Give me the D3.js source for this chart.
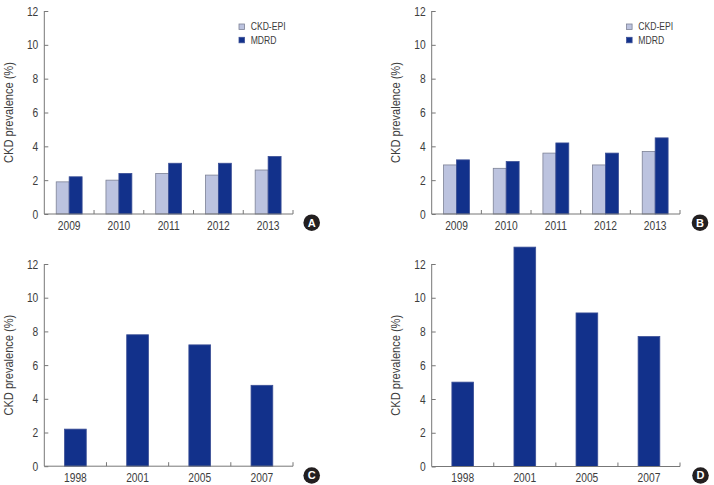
<!DOCTYPE html>
<html>
<head>
<meta charset="utf-8">
<script src="https://cdn.jsdelivr.net/npm/d3@7"></script>
<style>
  body { margin: 0; background: #fff; }
  svg { display: block; }
  text { font-family: "Liberation Sans", Arial, sans-serif; fill: #3d3d3d; }
</style>
</head>
<body>
<div id="chart"></div>
<script>
// data ---------------------------------------------------------------------
var yearsAB = ["2009", "2010", "2011", "2012", "2013"];
var ckdEpiA = [1.9, 2.0, 2.4, 2.3, 2.6];
var mdrdA   = [2.2, 2.4, 3.0, 3.0, 3.4];
var ckdEpiB = [2.9, 2.7, 3.6, 2.9, 3.7];
var mdrdB   = [3.2, 3.1, 4.2, 3.6, 4.5];
var yearsCD = ["1998", "2001", "2005", "2007"];
var valuesC = [2.2, 7.8, 7.2, 4.8];
var valuesD = [5.0, 13.0, 9.1, 7.7];
var yTicks = [0, 2, 4, 6, 8, 10, 12];
var seriesNames = ["CKD-EPI", "MDRD"];
var seriesColors = ["#bcc3df", "#12318b"];
var seriesStroke = ["#7d8296", "#3b4f96"];

var squeeze = 0.82; // narrow the font horizontally, like a condensed face

var svg = d3.select("#chart").append("svg")
  .attr("width", 714)
  .attr("height", 485);

function drawPanel(opt) {
  var g = svg.append("g");
  var x = d3.scaleBand().domain(opt.cats).range([opt.x0, opt.x1]);
  var y = d3.scaleLinear().domain([0, 12]).range([opt.yb, opt.yt]);

  // bars
  if (opt.series.length === 2) {
    var inner = d3.scaleBand().domain([0, 1]).range([0, x.bandwidth()])
      .paddingOuter(0.92).paddingInner(0);
    opt.series.forEach(function(vals, si) {
      g.selectAll(".b" + si).data(vals).enter().append("rect")
        .attr("x", function(d, i) { return x(opt.cats[i]) + inner(si); })
        .attr("y", function(d) { return y(d); })
        .attr("width", inner.bandwidth())
        .attr("height", function(d) { return y(0) - y(d); })
        .attr("fill", seriesColors[si])
        .attr("stroke", seriesStroke[si])
        .attr("stroke-width", 0.8);
    });
  } else {
    var inner1 = d3.scaleBand().domain([0]).range([0, x.bandwidth()]).paddingOuter(0.93);
    g.selectAll(".b").data(opt.series[0]).enter().append("rect")
      .attr("x", function(d, i) { return x(opt.cats[i]) + inner1(0); })
      .attr("y", function(d) { return y(d); })
      .attr("width", inner1.bandwidth())
      .attr("height", function(d) { return y(0) - y(d); })
      .attr("fill", seriesColors[1])
      .attr("stroke", seriesStroke[1])
      .attr("stroke-width", 0.8);
  }

  // y axis, ticks pointing inward
  var ya = g.append("g")
    .attr("transform", "translate(" + opt.x0 + ",0)")
    .call(d3.axisRight(y).tickValues(yTicks).tickSize(4).tickFormat(d3.format("d")));
  ya.select(".domain").attr("stroke", "#777").attr("d", "M0," + opt.yt + "V" + opt.yb);
  ya.selectAll(".tick line").attr("stroke", "#777");
  ya.selectAll(".tick text")
    .attr("x", -6 / squeeze)
    .attr("transform", "scale(" + squeeze + ",1)")
    .attr("text-anchor", "end")
    .attr("font-size", 12.5)
    .attr("font-family", null);

  // x axis
  var xa = g.append("g")
    .attr("transform", "translate(0," + opt.yb + ")")
    .call(d3.axisBottom(x).tickSize(0).tickPadding(7));
  xa.select(".domain").attr("stroke", "#777").attr("d", "M" + opt.x0 + ",0H" + opt.x1);
  xa.selectAll(".tick text")
    .attr("transform", "scale(" + squeeze + ",1)")
    .attr("font-size", 12.5)
    .attr("font-family", null);
  var bounds = opt.cats.slice(1).map(function(c) { return x(c); }).concat([opt.x1]);
  xa.selectAll(".bt").data(bounds).enter().append("line")
    .attr("x1", function(d) { return d; })
    .attr("x2", function(d) { return d; })
    .attr("y1", 0).attr("y2", -4)
    .attr("stroke", "#777");

  // y label
  g.append("text")
    .attr("transform", "translate(" + opt.labelX + "," + ((opt.yt + opt.yb) / 2) + ") rotate(-90) scale(" + squeeze + ",1)")
    .attr("text-anchor", "middle")
    .attr("dy", "0.35em")
    .attr("font-size", 13.5)
    .text("CKD prevalence (%)");

  // panel letter
  g.append("circle")
    .attr("cx", opt.letterX).attr("cy", opt.letterY).attr("r", 8.3)
    .attr("fill", "#231f20");
  g.append("text")
    .attr("x", opt.letterX).attr("y", opt.letterY)
    .attr("dy", "0.36em")
    .attr("text-anchor", "middle")
    .attr("font-size", 11)
    .attr("font-weight", "bold")
    .style("fill", "#fff")
    .text(opt.letter);

  // legend
  if (opt.legendX) {
    seriesNames.forEach(function(name, i) {
      var ly = opt.legendY + i * 13.3;
      g.append("rect")
        .attr("x", opt.legendX - 2.7).attr("y", ly - 2.7)
        .attr("width", 5.5).attr("height", 5.5)
        .attr("fill", seriesColors[i])
        .attr("stroke", seriesStroke[i])
        .attr("stroke-width", 0.8);
      g.append("text")
        .attr("transform", "translate(" + (opt.legendX + 9) + "," + ly + ") scale(" + squeeze + ",1)")
        .attr("dy", "0.35em")
        .attr("font-size", 10.5)
        .text(name);
    });
  }
}

drawPanel({ cats: yearsAB, series: [ckdEpiA, mdrdA], x0: 44.3, x1: 293, yt: 11, yb: 214,
  labelX: 8, letter: "A", letterX: 311.7, letterY: 222.7, legendX: 241.7, legendY: 26.7 });
drawPanel({ cats: yearsAB, series: [ckdEpiB, mdrdB], x0: 431.7, x1: 680, yt: 11, yb: 214,
  labelX: 395, letter: "B", letterX: 700, letterY: 222.7, legendX: 629.3, legendY: 26.7 });
drawPanel({ cats: yearsCD, series: [valuesC], x0: 44.3, x1: 293, yt: 264, yb: 466.2,
  labelX: 8, letter: "C", letterX: 311.7, letterY: 475.5 });
drawPanel({ cats: yearsCD, series: [valuesD], x0: 431.7, x1: 680, yt: 264, yb: 466.5,
  labelX: 395, letter: "D", letterX: 700.5, letterY: 475.5 });
</script>
</body>
</html>
